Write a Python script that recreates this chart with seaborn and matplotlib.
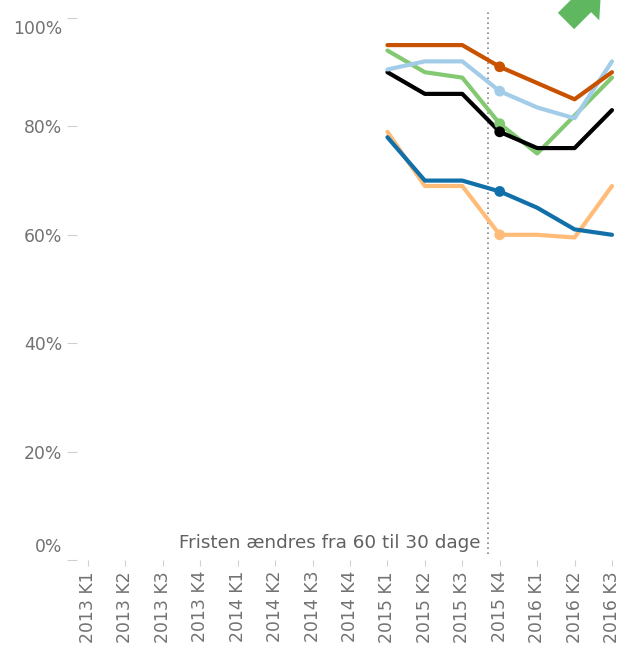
import numpy as np
import pandas as pd
import matplotlib
matplotlib.use("Agg")
import matplotlib.pyplot as plt
from matplotlib.patches import Polygon
from matplotlib.transforms import ScaledTranslation
import seaborn as sns

# Quarters on the x axis
quarters = ["2013 K1", "2013 K2", "2013 K3", "2013 K4",
            "2014 K1", "2014 K2", "2014 K3", "2014 K4",
            "2015 K1", "2015 K2", "2015 K3", "2015 K4",
            "2016 K1", "2016 K2", "2016 K3"]

# Share of invoices paid on time (%), only reported from 2015 K1
nan = np.nan
pre = [nan] * 8
region_nord = pre + [95, 95, 95, 91, 88, 85, 90]
region_midt = pre + [90.5, 92, 92, 86.5, 83.5, 81.5, 92]
region_syd = pre + [94, 90, 89, 80.5, 75, 82, 89]
hele_landet = pre + [90, 86, 86, 79, 76, 76, 83]
region_hoved = pre + [78, 70, 70, 68, 65, 61, 60]
region_sj = pre + [79, 69, 69, 60, 60, 59.5, 69]

series_names = ["Region Sjælland", "Region Syddanmark", "Hele landet",
                "Region Midtjylland", "Region Nordjylland", "Region Hovedstaden"]
series_values = [region_sj, region_syd, hele_landet,
                 region_midt, region_nord, region_hoved]
series_colors = ["#ffbc79", "#82c971", "#000000",
                 "#a3cce9", "#c85200", "#1170aa"]

highlight_quarter = "2015 K4"
deadline_pos = 10.7
deadline_text = "Fristen ændres fra 60 til 30 dage"
y_ticks = [0, 20, 40, 60, 80, 100]

rows = []
for name, vals in zip(series_names, series_values):
    for i, (q, v) in enumerate(zip(quarters, vals)):
        rows.append({"serie": name, "kvartal": q, "pos": i, "andel": v / 100})
df = pd.DataFrame(rows)

sns.set_style("white")
plt.rcParams["font.family"] = ["DejaVu Sans"]

W, H = 620, 647
fig = plt.figure(figsize=(W / 100, H / 100), dpi=100)

# axes placed so that the first/last quarter bands and 0-100% sit where wanted
x_left, x_right = 69.3, 630.7
y_bottom, y_top = 560, 1.74
ax = fig.add_axes([x_left / W, 1 - y_bottom / H,
                   (x_right - x_left) / W, (y_bottom - y_top) / H])

palette = dict(zip(series_names, series_colors))
sns.lineplot(data=df.dropna(), x="pos", y="andel", hue="serie",
             hue_order=series_names, palette=palette, linewidth=3.0,
             legend=False, ax=ax, sort=True)
hl = df[(df["kvartal"] == highlight_quarter)].dropna()
sns.scatterplot(data=hl, x="pos", y="andel", hue="serie",
                hue_order=series_names, palette=palette, s=60,
                edgecolor="none", legend=False, ax=ax, zorder=5)

ax.set_xlim(-0.5, len(quarters) - 0.5)
ax.set_ylim(0, 1.03)
ax.set_xlabel("")
ax.set_ylabel("")

for s in ax.spines.values():
    s.set_color("none")
ax.spines["left"].set_position(("data", -0.29))

label_size = 12.4
ax.set_yticks([t / 100 for t in y_ticks])
ax.set_yticklabels([f"{t}%" for t in y_ticks])
ax.set_xticks(range(len(quarters)))
ax.set_xticklabels(quarters, rotation=90)
ax.tick_params(axis="y", direction="out", length=7.2, width=0.8,
               color="#d0d0d0", pad=3.6, labelsize=label_size,
               labelcolor="#727272", left=True)
ax.tick_params(axis="x", direction="out", length=4.3, width=0.8,
               color="#d0d0d0", pad=3.6, labelsize=label_size,
               labelcolor="#727272", bottom=True)

# end labels are nudged inward
labels = ax.get_yticklabels()
labels[0].set_transform(labels[0].get_transform() +
                        ScaledTranslation(0, 15 / 100, fig.dpi_scale_trans))
labels[-1].set_transform(labels[-1].get_transform() +
                         ScaledTranslation(0, -9.5 / 100, fig.dpi_scale_trans))

# reference line for the payment deadline change
ax.axvline(deadline_pos, ymin=0.01, ymax=0.985, color="#888888",
           linestyle=(0, (1, 2)), linewidth=1.2, zorder=1)
ax.text(deadline_pos - 0.22, 0.031, deadline_text, ha="right", va="center",
        fontsize=13.2, color="#606060")

# trend indicator arrow in the top right corner
c0 = np.array([566.0, 21.0])
d = np.array([1, -1]) / np.sqrt(2)
p = np.array([1, 1]) / np.sqrt(2)
shape = [(0, -11.5), (24, -11.5), (24, -23), (50, 0), (24, 23), (24, 11.5), (0, 11.5)]
pts = [c0 + s * d + t * p for s, t in shape]
pts = [(x / W, 1 - y / H) for x, y in pts]
fig.patches.append(Polygon(pts, closed=True, transform=fig.transFigure,
                           facecolor="#5fb760", edgecolor="none", zorder=10))

fig.savefig("out.png", dpi=100)
